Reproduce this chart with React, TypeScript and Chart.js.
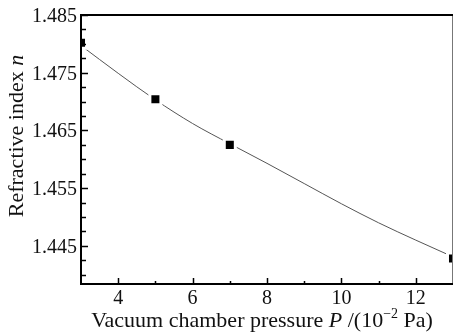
import React, { useEffect, useRef } from 'react';
import { Chart, registerables } from 'chart.js';

Chart.register(...registerables);

// Measured data (squares)
const measuredPressure = [3, 5, 7, 13];
const measuredIndex = [1.4802, 1.4704, 1.4625, 1.4428];

// Fitted curve
const fitPressure = [3, 4, 5, 6, 7, 8, 9, 10, 11, 12, 13];
const fitIndex = [1.4797, 1.4749, 1.4703, 1.4662, 1.4627, 1.4593, 1.4558, 1.4523, 1.449, 1.446, 1.4431];

// Axis ticks
const xTickLabels = [4, 6, 8, 10, 12];
const xMinorTicks = [5, 7, 9, 11];
const yTickLabels = ['1.445', '1.455', '1.465', '1.475', '1.485'];
const yMinorTicks = [1.44, 1.4425, 1.4475, 1.45, 1.4525, 1.4575, 1.46, 1.4625, 1.4675, 1.47, 1.4725, 1.4775, 1.48, 1.4825];

const X_MIN = 3;
const X_MAX = 13;
const Y_MIN = 1.4384;
const Y_MAX = 1.485;

const FONT = '"Liberation Serif", "Times New Roman", serif';

type Seg = { t: string; italic?: boolean; size?: number; dy?: number };

function drawSegments(ctx: CanvasRenderingContext2D, segs: Seg[], cx: number, baseline: number, base = 22) {
  const fontFor = (s: Seg) => `${s.italic ? 'italic ' : ''}${s.size ?? base}px ${FONT}`;
  let total = 0;
  for (const s of segs) {
    ctx.font = fontFor(s);
    total += ctx.measureText(s.t).width;
  }
  let x = cx - total / 2;
  ctx.textAlign = 'left';
  ctx.textBaseline = 'alphabetic';
  for (const s of segs) {
    ctx.font = fontFor(s);
    ctx.fillText(s.t, x, baseline + (s.dy ?? 0));
    x += ctx.measureText(s.t).width;
  }
}

const framePlugin = {
  id: 'framePlugin',
  afterDraw(chart: any) {
    const ctx: CanvasRenderingContext2D = chart.ctx;
    const { left, top, right, bottom } = chart.chartArea;
    const xs = chart.scales.x;
    const ys = chart.scales.y;
    ctx.save();
    // right border (thin, gray)
    ctx.strokeStyle = '#777';
    ctx.lineWidth = 1;
    ctx.beginPath();
    ctx.moveTo(right - 0.5, top);
    ctx.lineTo(right - 0.5, bottom);
    ctx.stroke();
    // left, top, bottom frame
    ctx.strokeStyle = '#000';
    ctx.fillStyle = '#111';
    ctx.lineWidth = 2;
    ctx.beginPath();
    ctx.moveTo(right, top);
    ctx.lineTo(left, top);
    ctx.lineTo(left, bottom);
    ctx.lineTo(right, bottom);
    ctx.stroke();
    // y ticks
    ctx.lineWidth = 1.5;
    ctx.beginPath();
    for (const v of yTickLabels) {
      const y = Math.round(ys.getPixelForValue(parseFloat(v))) + 0.5;
      ctx.moveTo(left, y);
      ctx.lineTo(left + 7, y);
    }
    for (const v of yMinorTicks) {
      const y = Math.round(ys.getPixelForValue(v)) + 0.5;
      ctx.moveTo(left, y);
      ctx.lineTo(left + 5, y);
    }
    // x ticks
    for (const v of xTickLabels) {
      const x = Math.round(xs.getPixelForValue(v)) + 0.5;
      ctx.moveTo(x, bottom);
      ctx.lineTo(x, bottom - 6);
    }
    for (const v of xMinorTicks) {
      const x = Math.round(xs.getPixelForValue(v)) + 0.5;
      ctx.moveTo(x, bottom);
      ctx.lineTo(x, bottom - 3);
    }
    ctx.stroke();

    // tick labels
    ctx.font = `20px ${FONT}`;
    ctx.textAlign = 'right';
    ctx.textBaseline = 'alphabetic';
    for (const v of yTickLabels) {
      const y = ys.getPixelForValue(parseFloat(v));
      ctx.fillText(v, left - 4, y + 7);
    }
    ctx.textAlign = 'center';
    for (const v of xTickLabels) {
      const x = xs.getPixelForValue(v);
      ctx.fillText(String(v), x, bottom + 20);
    }

    // x title
    drawSegments(
      ctx,
      [
        { t: 'Vacuum chamber pressure ' },
        { t: 'P', italic: true },
        { t: ' /(10' },
        { t: '\u22122', size: 14, dy: -9 },
        { t: ' Pa)' },
      ],
      262,
      bottom + 43
    );

    // y title
    ctx.save();
    ctx.translate(23, 136);
    ctx.rotate(-Math.PI / 2);
    drawSegments(ctx, [{ t: 'Refractive index ' }, { t: 'n', italic: true }], 0, 0);
    ctx.restore();

    ctx.restore();
  },
};

export default function App() {
  const canvasRef = useRef<HTMLCanvasElement | null>(null);

  useEffect(() => {
    const canvas = canvasRef.current;
    if (!canvas) return;
    const chart = new Chart(canvas, {
      type: 'scatter',
      data: {
        datasets: [
          {
            type: 'line',
            label: 'fit',
            data: fitPressure.map((x, i) => ({ x, y: fitIndex[i] })),
            borderColor: '#555',
            borderWidth: 1,
            pointRadius: 0,
            fill: false,
            cubicInterpolationMode: 'monotone',
            order: 2,
          } as any,
          {
            type: 'scatter',
            label: 'measured',
            data: measuredPressure.map((x, i) => ({ x, y: measuredIndex[i] })),
            pointStyle: 'rect',
            pointRadius: 7.8,
            backgroundColor: '#000',
            borderColor: '#fff',
            borderWidth: 3,
            order: 1,
          } as any,
        ],
      },
      options: {
        responsive: false,
        animation: false,
        events: [],
        layout: { autoPadding: false, padding: { left: 81, top: 15, right: 0, bottom: 50 } },
        plugins: {
          legend: { display: false },
          tooltip: { enabled: false },
          title: { display: false },
        },
        scales: {
          x: { type: 'linear', min: X_MIN, max: X_MAX, display: false },
          y: { type: 'linear', min: Y_MIN, max: Y_MAX, display: false },
        },
      },
      plugins: [framePlugin],
    });
    return () => chart.destroy();
  }, []);

  return (
    <div style={{ position: 'fixed', left: 0, top: 0, width: 453, height: 334, background: '#fff' }}>
      <canvas ref={canvasRef} width={453} height={334} style={{ display: 'block' }} />
    </div>
  );
}
